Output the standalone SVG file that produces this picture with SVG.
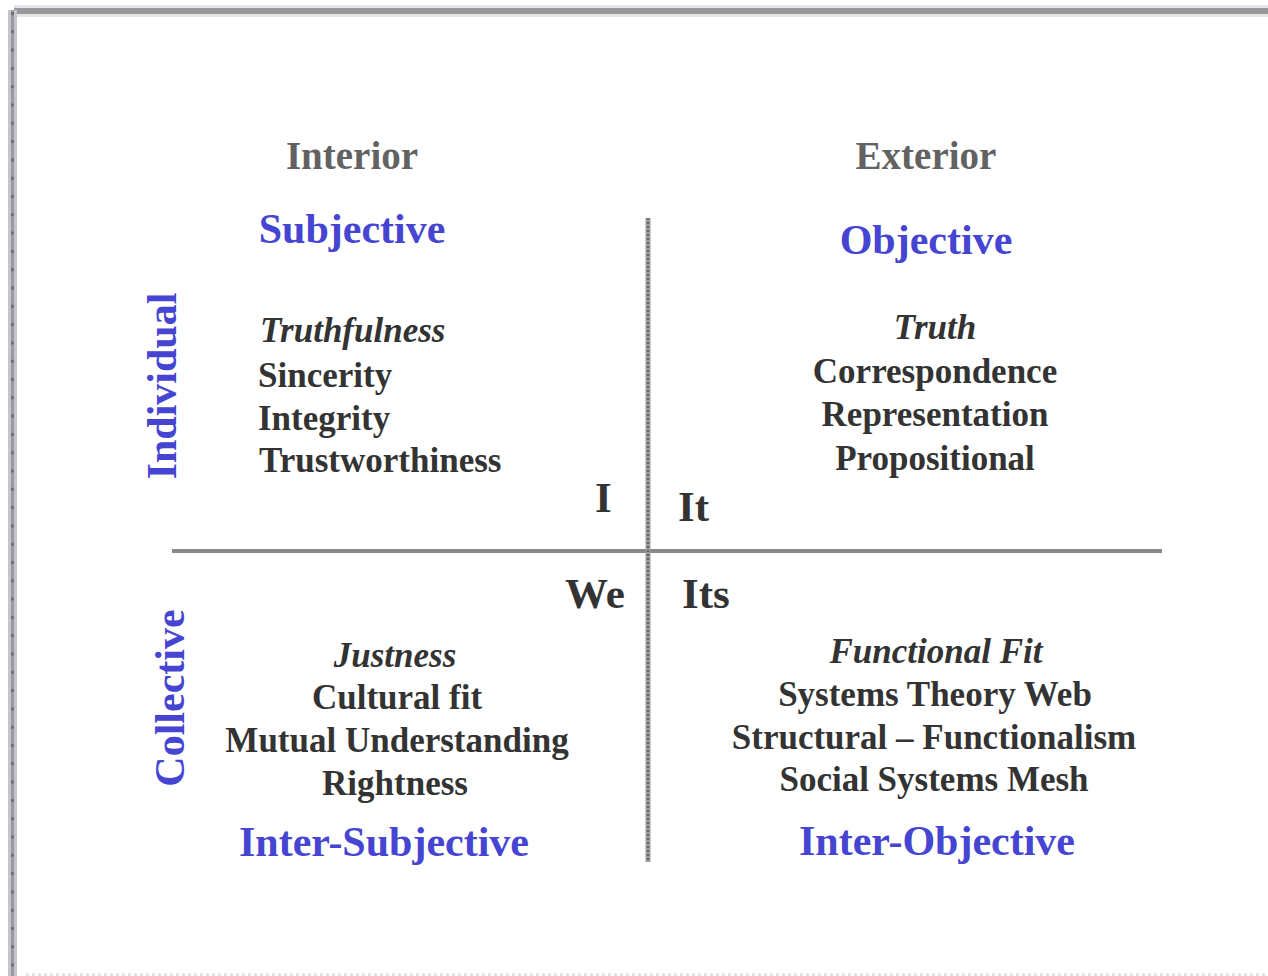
<svg xmlns="http://www.w3.org/2000/svg" width="1268" height="976" viewBox="0 0 1268 976">
<style>
text{font-family:"Liberation Serif","Times New Roman",serif;font-weight:bold}
.head{font-size:39px;fill:#626262}
.blue{font-size:42px;fill:#4545d2}
.body{font-size:35px;fill:#333}
.it{font-style:italic}
.mid{text-anchor:middle}
.big{font-size:43px;fill:#333}
</style>
<rect width="1268" height="976" fill="#fff"/>
<g id="frame">
<rect x="14" y="5" width="1254" height="12" fill="#e4e4ea"/>
<rect x="14" y="8" width="1254" height="6" fill="#999"/>
<rect x="8" y="10" width="9" height="966" fill="#c4c4cf"/>
<rect x="11" y="10" width="3" height="966" fill="#9a9a9a"/>
<line x1="12.5" y1="12" x2="12.5" y2="976" stroke="#707070" stroke-width="3" stroke-dasharray="3 15.3"/>
<line x1="26" y1="975" x2="1268" y2="975" stroke="#dedee4" stroke-width="3" stroke-dasharray="3 3"/>
</g>
<g id="connectors">
<line x1="172" y1="551" x2="1162" y2="551" stroke="#8a8a8a" stroke-width="4"/>
<line x1="648" y1="218" x2="648" y2="862" stroke="#a0a0a0" stroke-width="5"/>
<line x1="648" y1="218" x2="648" y2="862" stroke="#666" stroke-width="2.5" stroke-dasharray="2 2"/>
</g>
<g id="interior"><text class="head mid" x="352" y="169">Interior</text></g>
<g id="exterior"><text class="head mid" x="926" y="169">Exterior</text></g>
<g id="individual"><text class="blue mid" transform="translate(176,386) rotate(-90)">Individual</text></g>
<g id="collective"><text class="blue mid" transform="translate(184,698) rotate(-90)">Collective</text></g>
<g id="upper-left">
<text class="blue mid" x="352" y="243">Subjective</text>
<text class="body it" x="260" y="342">Truthfulness</text>
<text class="body" x="258" y="387">Sincerity</text>
<text class="body" x="258" y="430">Integrity</text>
<text class="body" x="259" y="472">Trustworthiness</text>
<text class="big" x="595" y="512">I</text>
</g>
<g id="upper-right">
<text class="blue mid" x="926" y="254">Objective</text>
<text class="body it mid" x="935" y="339">Truth</text>
<text class="body mid" x="935" y="383">Correspondence</text>
<text class="body mid" x="935" y="426">Representation</text>
<text class="body mid" x="935" y="470">Propositional</text>
<text class="big" x="678" y="521">It</text>
</g>
<g id="lower-left">
<text class="big" x="565" y="608">We</text>
<text class="body it mid" x="395" y="667">Justness</text>
<text class="body mid" x="397" y="709">Cultural fit</text>
<text class="body mid" x="397" y="752">Mutual Understanding</text>
<text class="body mid" x="395" y="795">Rightness</text>
<text class="blue mid" x="384" y="856">Inter-Subjective</text>
</g>
<g id="lower-right">
<text class="big" x="682" y="608">Its</text>
<text class="body it mid" x="936" y="663">Functional Fit</text>
<text class="body mid" x="935" y="706">Systems Theory Web</text>
<text class="body mid" x="934" y="749">Structural – Functionalism</text>
<text class="body mid" x="934" y="791">Social Systems Mesh</text>
<text class="blue mid" x="937" y="855">Inter-Objective</text>
</g>
</svg>
